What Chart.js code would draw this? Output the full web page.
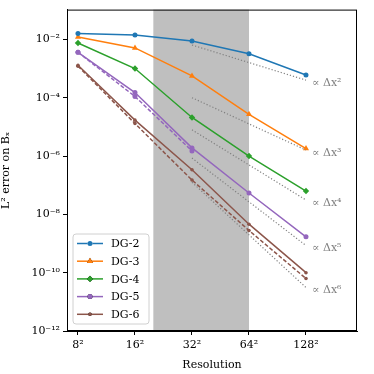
<!DOCTYPE html>
<html>
<head>
<meta charset="utf-8">
<script src="https://cdn.jsdelivr.net/npm/chart.js@4"></script>
<style>
  html, body { margin: 0; padding: 0; background: #fff; }
  #wrap { width: 374px; height: 374px; }
</style>
</head>
<body>
<div id="wrap"><canvas id="errChart" width="374" height="374"></canvas></div>
<script>
// Resolution (N, shown as N^2) and L2 error per scheme
const resolutions = [8, 16, 32, 64, 128];
const dg2 = [1.6e-2, 1.4e-2, 8.8e-3, 3.2e-3, 6.0e-4];
const dg3 = [1.2e-2, 5.1e-3, 5.6e-4, 2.7e-5, 1.8e-6];
const dg4 = [7.5e-3, 1.0e-3, 2.1e-5, 1.0e-6, 6.3e-8];
const dg5 = [3.6e-3, 1.5e-4, 1.9e-6, 5.4e-8, 1.7e-9];
const dg5Dashed = [3.6e-3, 1.1e-4, 1.5e-6];
const dg6 = [1.3e-3, 1.7e-5, 3.4e-7, 4.6e-9, 1.0e-10];
const dg6Dashed = [1.2e-3, 1.3e-5, 1.5e-7, 2.8e-9, 6.3e-11];

// slope guides, from 32 to 128
const refX = [32, 128];
const ref2 = [6.4e-3, 4.0e-4];
const ref3 = [1.0e-4, 1.6e-6];
const ref4 = [7.9e-6, 3.1e-8];
const ref5 = [8.5e-7, 8.5e-10];
const ref6 = [1.26e-7, 3.1e-11];
const refLabels = ["∝ Δx²", "∝ Δx³", "∝ Δx⁴", "∝ Δx⁵", "∝ Δx⁶"];

const xTickLabels = ["8²", "16²", "32²", "64²", "128²"];
const yTicks = [1e-2, 1e-4, 1e-6, 1e-8, 1e-10, 1e-12];
const yTickLabels = ["10⁻²", "10⁻⁴", "10⁻⁶", "10⁻⁸", "10⁻¹⁰", "10⁻¹²"];
const shadeRange = [20, 64];

const FONT = "'DejaVu Serif', serif";
const colors = ["#1f77b4", "#ff7f0e", "#2ca02c", "#9467bd", "#8c564b"];
const names = ["DG-2", "DG-3", "DG-4", "DG-5", "DG-6"];
const markers = [
  { style: "circle", r: 2.5 },
  { style: "triangle", r: 3.5 },
  { style: "rectRot", r: 3.2 },
  { style: "circle", r: 2.5 },
  { style: "circle", r: 1.8 },
];

const pts = (xs, ys) => ys.map((y, i) => ({ x: xs[i], y: y }));

function series(i, ys, dashed) {
  return {
    label: names[i],
    data: pts(resolutions, ys),
    borderColor: colors[i],
    backgroundColor: colors[i],
    borderWidth: 1.5,
    borderDash: dashed ? [4, 2] : [],
    pointStyle: markers[i].style,
    pointRadius: markers[i].r,
    pointBorderWidth: 0,
    fill: false,
    tension: 0,
  };
}

function guide(ys) {
  return {
    label: "guide",
    data: pts(refX, ys),
    borderColor: "#808080",
    borderWidth: 1.2,
    borderDash: [1.2, 2],
    pointRadius: 0,
    fill: false,
  };
}

const guides = [ref2, ref3, ref4, ref5, ref6];

const datasets = [
  ...guides.map(guide),
  series(0, dg2),
  series(1, dg3),
  series(2, dg4),
  series(3, dg5),
  series(3, dg5Dashed, true),
  series(4, dg6),
  series(4, dg6Dashed, true),
];

// gray band, frame, guide labels and legend box
const decor = {
  id: "decor",
  beforeDatasetsDraw(chart) {
    const { ctx, chartArea: a, scales } = chart;
    const x0 = scales.x.getPixelForValue(shadeRange[0]);
    const x1 = scales.x.getPixelForValue(shadeRange[1]);
    ctx.save();
    ctx.fillStyle = "#bfbfbf";
    ctx.fillRect(x0, a.top, x1 - x0, a.bottom - a.top);
    ctx.restore();
  },
  afterDraw(chart) {
    const { ctx, chartArea: a, scales } = chart;
    ctx.save();
    ctx.strokeStyle = "#000";
    ctx.lineWidth = 1;
    ctx.strokeRect(a.left + 0.5, a.top + 0.5, a.right - a.left - 1, a.bottom - a.top - 1);

    // guide labels
    ctx.fillStyle = "#808080";
    ctx.font = "11px " + FONT;
    ctx.textBaseline = "middle";
    ctx.textAlign = "left";
    guides.forEach((g, i) => {
      const px = scales.x.getPixelForValue(refX[1]) + 6;
      const py = scales.y.getPixelForValue(g[1]) + 3;
      ctx.fillText(refLabels[i], px, py);
    });

    // legend
    const lx = a.left + 6, ly = a.bottom - 97, lw = 76, lh = 90;
    ctx.fillStyle = "rgba(255,255,255,0.85)";
    ctx.strokeStyle = "#d0d0d0";
    ctx.lineWidth = 1;
    ctx.beginPath();
    ctx.roundRect(lx, ly, lw, lh, 3);
    ctx.fill();
    ctx.stroke();
    names.forEach((n, i) => {
      const y = ly + 9.5 + i * 17.7;
      ctx.strokeStyle = colors[i];
      ctx.lineWidth = 1.5;
      ctx.beginPath();
      ctx.moveTo(lx + 4, y);
      ctx.lineTo(lx + 30, y);
      ctx.stroke();
      Chart.helpers.drawPoint(ctx, {
        pointStyle: markers[i].style,
        radius: markers[i].r,
        rotation: 0,
        borderWidth: 0,
      }, lx + 17, y);
      ctx.fillStyle = colors[i];
      ctx.fill();
      ctx.fillStyle = "#000";
      ctx.font = "11px " + FONT;
      ctx.textAlign = "left";
      ctx.fillText(n, lx + 38, y + 1);
    });
    ctx.restore();
  },
};

const ctx = document.getElementById("errChart").getContext("2d");
const errChart = new Chart(ctx, {
  type: "line",
  data: { datasets: datasets },
  plugins: [decor],
  options: {
    responsive: false,
    animation: false,
    devicePixelRatio: 1,
    layout: { padding: { top: 7, right: 17, left: 0, bottom: 0 } },
    plugins: {
      legend: { display: false },
      tooltip: { enabled: false },
    },
    scales: {
      x: {
        type: "logarithmic",
        min: 7.0,
        max: 238,
        afterBuildTicks: (s) => { s.ticks = resolutions.map((v) => ({ value: v })); },
        afterFit: (s) => { s.height = 43; },
        ticks: {
          autoSkip: false,
          maxRotation: 0,
          color: "#000",
          padding: 4,
          font: { family: FONT, size: 11 },
          callback: (v) => xTickLabels[resolutions.indexOf(v)],
        },
        grid: { drawOnChartArea: false, drawTicks: true, tickLength: 4, color: "#000" },
        border: { display: true, color: "#000", width: 1 },
        title: {
          display: true,
          text: "Resolution",
          color: "#000",
          padding: { top: 0, bottom: 2 },
          font: { family: FONT, size: 11 },
        },
      },
      y: {
        type: "logarithmic",
        min: 1e-12,
        max: 0.105,
        afterBuildTicks: (s) => { s.ticks = yTicks.map((v) => ({ value: v })); },
        afterFit: (s) => { s.width = 67; },
        ticks: {
          autoSkip: false,
          color: "#000",
          padding: 3,
          font: { family: FONT, size: 11 },
          callback: (v) => {
            const k = yTicks.findIndex((t) => Math.abs(Math.log10(t) - Math.log10(v)) < 1e-6);
            return k >= 0 ? yTickLabels[k] : "";
          },
        },
        grid: { drawOnChartArea: false, drawTicks: true, tickLength: 4, color: "#000" },
        border: { display: true, color: "#000", width: 1 },
        title: {
          display: true,
          text: "L² error on Bₓ",
          color: "#000",
          padding: { top: 0, bottom: 4 },
          font: { family: FONT, size: 11 },
        },
      },
    },
  },
});
</script>
</body>
</html>
